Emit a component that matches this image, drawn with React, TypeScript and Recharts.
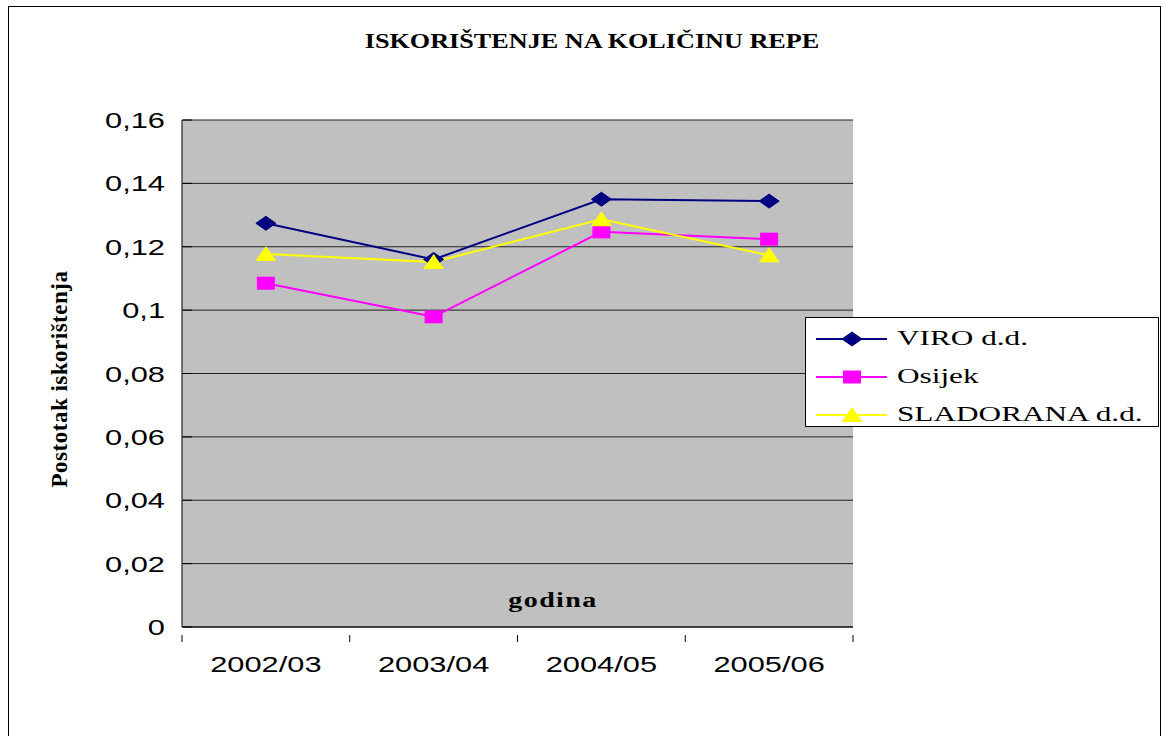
import { LineChart, Line, XAxis, YAxis, CartesianGrid } from "recharts";

const categories = ["2002/03", "2003/04", "2004/05", "2005/06"];
const viroValues = [0.1274, 0.116, 0.135, 0.1344];
const osijekValues = [0.1085, 0.0979, 0.1247, 0.1224];
const sladoranaValues = [0.1177, 0.1152, 0.1287, 0.1173];
const yTicks = [0, 0.02, 0.04, 0.06, 0.08, 0.1, 0.12, 0.14, 0.16];

const series = [
  { key: "viro", name: "VIRO d.d.", color: "#000080", marker: "diamond" },
  { key: "osijek", name: "Osijek", color: "#FF00FF", marker: "square" },
  { key: "sladorana", name: "SLADORANA d.d.", color: "#FFFF00", marker: "triangle" },
];

const data = categories.map((c, i) => ({
  year: c,
  viro: viroValues[i],
  osijek: osijekValues[i],
  sladorana: sladoranaValues[i],
}));

const W = 1164;
const H = 736;
const PLOT_LEFT = 182;
const PLOT_RIGHT = 853;
const BAND = (PLOT_RIGHT - PLOT_LEFT) / categories.length;
const STRETCH = 1.4;
const sans = "'Liberation Sans', Arial, sans-serif";
const serif = "'Liberation Serif', 'Times New Roman', serif";

function Marker({ type, cx, cy, color }: { type: string; cx: number; cy: number; color: string }) {
  if (type === "diamond") {
    return (
      <polygon
        points={`${cx - 10},${cy} ${cx},${cy - 7} ${cx + 10},${cy} ${cx},${cy + 7}`}
        fill={color}
        stroke={color}
      />
    );
  }
  if (type === "square") {
    return <rect x={cx - 9} y={cy - 6.5} width={18} height={13} fill={color} />;
  }
  return (
    <polygon
      points={`${cx - 10.5},${cy + 7} ${cx},${cy - 8} ${cx + 10.5},${cy + 7}`}
      fill={color}
    />
  );
}

function YTick(props: any) {
  const { x, y, payload } = props;
  const label = String(payload.value).replace(".", ",");
  return (
    <g>
      <line x1={x + 9} x2={x + 18} y1={y} y2={y} stroke="#000" />
      <text
        transform={`translate(${x - 9},${y + 8}) scale(${STRETCH},1)`}
        textAnchor="end"
        fontFamily={sans}
        fontSize={22}
        fill="#000"
      >
        {label}
      </text>
    </g>
  );
}

function XTick(props: any) {
  const { x, y, payload, index } = props;
  return (
    <g>
      <line x1={x - BAND / 2} x2={x - BAND / 2} y1={y} y2={y + 7} stroke="#000" />
      {index === categories.length - 1 && (
        <line x1={x + BAND / 2} x2={x + BAND / 2} y1={y} y2={y + 7} stroke="#000" />
      )}
      <text
        transform={`translate(${x},${y + 37}) scale(${STRETCH},1)`}
        textAnchor="middle"
        fontFamily={sans}
        fontSize={22}
        fill="#000"
      >
        {payload.value}
      </text>
    </g>
  );
}

function ChartLegend() {
  return (
    <div
      style={{
        position: "absolute",
        left: 805,
        top: 317,
        width: 354,
        height: 110,
        border: "1px solid #000",
        background: "#fff",
        boxSizing: "border-box",
      }}
    >
      {series.map((s, i) => (
        <div key={s.key} style={{ position: "absolute", left: 0, top: 2 + i * 38, height: 38, width: 350 }}>
          <svg width={90} height={38} style={{ position: "absolute", left: 8, top: 0 }}>
            <line x1={2} x2={73} y1={19} y2={19} stroke={s.color} strokeWidth={2} />
            <Marker type={s.marker} cx={38} cy={19} color={s.color} />
          </svg>
          <span
            style={{
              position: "absolute",
              left: 91,
              top: 5,
              fontFamily: serif,
              fontSize: 22,
              lineHeight: "26px",
              whiteSpace: "nowrap",
              transform: "scaleX(1.42)",
              transformOrigin: "left center",
            }}
          >
            {s.name}
          </span>
        </div>
      ))}
    </div>
  );
}

export default function App() {
  return (
    <div
      style={{
        position: "absolute",
        left: 0,
        top: 0,
        width: W,
        height: H,
        overflow: "hidden",
        background: "#fff",
      }}
    >
      <div
        style={{
          position: "absolute",
          left: 8,
          top: 6,
          width: 1153,
          height: 760,
          border: "1.5px solid #000",
          boxSizing: "border-box",
        }}
      />
      <LineChart
        width={W}
        height={H}
        data={data}
        margin={{ top: 120, right: W - PLOT_RIGHT, bottom: 49, left: PLOT_LEFT - 60 }}
        style={{ position: "absolute", left: 0, top: 0 }}
      >
        <CartesianGrid vertical={false} horizontal={true} fill="#C0C0C0" stroke="#222" strokeWidth={1} />
        <XAxis
          dataKey="year"
          height={60}
          tickLine={false}
          axisLine={{ stroke: "#000" }}
          tick={<XTick />}
          interval={0}
          padding={{ left: BAND / 2, right: BAND / 2 }}
        />
        <YAxis
          width={60}
          domain={[0, 0.16]}
          ticks={yTicks}
          tickLine={false}
          axisLine={{ stroke: "#000" }}
          tick={<YTick />}
        />
        {series.map((s) => (
          <Line
            key={s.key}
            dataKey={s.key}
            name={s.name}
            stroke={s.color}
            strokeWidth={2}
            isAnimationActive={false}
            dot={(p: any) => <Marker key={`${s.key}-${p.index}`} type={s.marker} cx={p.cx} cy={p.cy} color={s.color} />}
            activeDot={false}
          />
        ))}
      </LineChart>
      <svg width={W} height={H} style={{ position: "absolute", left: 0, top: 0, pointerEvents: "none" }}>
        <text
          transform="translate(592,48) scale(1.19,1)"
          textAnchor="middle"
          fontFamily={serif}
          fontWeight="bold"
          fontSize={22}
        >
          ISKORIŠTENJE NA KOLIČINU REPE
        </text>
        <text
          transform="translate(67,379) rotate(-90)"
          textAnchor="middle"
          fontFamily={serif}
          fontWeight="bold"
          fontSize={23}
          letterSpacing={0.5}
        >
          Postotak iskorištenja
        </text>
        <text
          transform="translate(553,607) scale(1.4,1)"
          textAnchor="middle"
          fontFamily={serif}
          fontWeight="bold"
          fontSize={20}
          letterSpacing={1}
        >
          godina
        </text>
      </svg>
      <ChartLegend />
    </div>
  );
}
